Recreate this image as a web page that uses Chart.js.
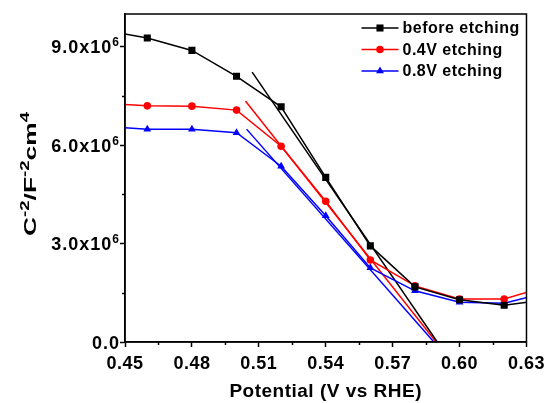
<!DOCTYPE html>
<html>
<head>
<meta charset="utf-8">
<script src="https://cdn.jsdelivr.net/npm/chart.js@4.4.1/dist/chart.umd.min.js"></script>
<style>
html, body { margin: 0; padding: 0; background: #fff; }
#wrap { width: 550px; height: 403px; }
</style>
</head>
<body>
<div id="wrap"><canvas id="mott"></canvas></div>
<script>
// Mott-Schottky data, potential in V vs RHE
var potential = [0.44, 0.46, 0.48, 0.50, 0.52, 0.54, 0.56, 0.58, 0.60, 0.62, 0.64];
var beforeEtching = [9.51e6, 9.27e6, 8.89e6, 8.10e6, 7.17e6, 5.02e6, 2.93e6, 1.68e6, 1.29e6, 1.12e6, 1.30e6];
var etching04 = [7.28e6, 7.20e6, 7.19e6, 7.07e6, 5.97e6, 4.29e6, 2.50e6, 1.71e6, 1.31e6, 1.31e6, 1.71e6];
var etching08 = [6.57e6, 6.49e6, 6.49e6, 6.38e6, 5.36e6, 3.85e6, 2.26e6, 1.56e6, 1.21e6, 1.18e6, 1.52e6];

// linear fits of the depletion region (start and x-intercept)
var fitBeforeX = [0.507, 0.590];
var fitBeforeY = [8.23e6, 0];
var fit04X = [0.504, 0.5895];
var fit04Y = [7.35e6, 0];
var fit08X = [0.5045, 0.5885];
var fit08Y = [6.49e6, 0];

var seriesNames = ['before etching', '0.4V etching', '0.8V etching'];
var xTicks = [0.45, 0.48, 0.51, 0.54, 0.57, 0.60, 0.63];
var yTicks = [0, 3e6, 6e6, 9e6];
// [main text, superscript]
var yTickLabels = [['0.0', ''], ['3.0x10', '6'], ['6.0x10', '6'], ['9.0x10', '6']];
var yTitle = [['C', '-2'], ['/F', '-2'], ['cm', '4']];

var FONT = "'Liberation Sans', Arial, sans-serif";

function toPoints(xs, ys) {
    var pts = [];
    for (var i = 0; i < xs.length; i++) {
        pts.push({ x: xs[i], y: ys[i] });
    }
    return pts;
}

function series(label, xs, ys, color, style, radius) {
    return {
        label: label,
        data: toPoints(xs, ys),
        showLine: true,
        borderColor: color,
        backgroundColor: color,
        borderWidth: 1.5,
        pointStyle: style,
        pointRadius: radius,
        pointBorderWidth: 0,
        clip: 0
    };
}

function fitLine(xs, ys, color) {
    return {
        label: '',
        data: toPoints(xs, ys),
        showLine: true,
        borderColor: color,
        borderWidth: 1.5,
        pointRadius: 0,
        clip: 0
    };
}

// text with superscripts: pairs of [normal, raised]
function pairsWidth(ctx, pairs, size, supSize) {
    var w = 0;
    pairs.forEach(function (p) {
        ctx.font = 'bold ' + size + 'px ' + FONT;
        w += ctx.measureText(p[0]).width;
        ctx.font = 'bold ' + supSize + 'px ' + FONT;
        w += ctx.measureText(p[1]).width;
    });
    return w;
}

function drawPairs(ctx, pairs, x, y, size, supSize, rise) {
    pairs.forEach(function (p) {
        ctx.font = 'bold ' + size + 'px ' + FONT;
        ctx.fillText(p[0], x, y);
        x += ctx.measureText(p[0]).width;
        ctx.font = 'bold ' + supSize + 'px ' + FONT;
        ctx.fillText(p[1], x, y - rise);
        x += ctx.measureText(p[1]).width;
    });
}

var decorations = {
    id: 'decorations',
    beforeDraw: function (chart) {
        chart.ctx.letterSpacing = '0.5px';
    },
    afterDraw: function (chart) {
        var ctx = chart.ctx;
        var a = chart.chartArea;
        var xs = chart.scales.x, ys = chart.scales.y;
        ctx.save();
        ctx.strokeStyle = '#000';
        ctx.fillStyle = '#000';
        ctx.lineWidth = 1.5;
        ctx.strokeRect(a.left, a.top, a.right - a.left, a.bottom - a.top);

        // minor ticks halfway between major ones
        ctx.beginPath();
        for (var i = 0; i < xTicks.length - 1; i++) {
            var px = Math.round(xs.getPixelForValue((xTicks[i] + xTicks[i + 1]) / 2)) + 0.5;
            ctx.moveTo(px, a.bottom);
            ctx.lineTo(px, a.bottom + 3);
        }
        for (var j = 0; j < yTicks.length; j++) {
            var v = yTicks[j] + 1.5e6;
            if (v > ys.max) break;
            var py = Math.round(ys.getPixelForValue(v)) + 0.5;
            ctx.moveTo(a.left, py);
            ctx.lineTo(a.left - 3, py);
        }
        ctx.stroke();

        // y tick labels with raised exponent
        ctx.textAlign = 'left';
        ctx.textBaseline = 'alphabetic';
        ctx.letterSpacing = '1px';
        for (var t = 0; t < yTicks.length; t++) {
            var lab = [yTickLabels[t]];
            var w = pairsWidth(ctx, lab, 18, 12);
            var ty = ys.getPixelForValue(yTicks[t]);
            drawPairs(ctx, lab, a.left - 5 - w, ty + 6.5, 18, 12, 7);
        }

        // y axis title, rotated
        ctx.save();
        ctx.letterSpacing = '0px';
        var tw = pairsWidth(ctx, yTitle, 17, 12);
        ctx.translate(36, (a.top + a.bottom) / 2 - 4);
        ctx.rotate(-Math.PI / 2);
        ctx.scale(124 / tw, 1);
        drawPairs(ctx, yTitle, -tw / 2, 0, 17, 12, 7);
        ctx.restore();

        // legend: line with marker, then label
        var lx = a.right - 165, top = a.top + 14;
        ctx.letterSpacing = '0.5px';
        ctx.font = 'bold 16px ' + FONT;
        ctx.textBaseline = 'middle';
        for (var k = 0; k < seriesNames.length; k++) {
            var ds = chart.data.datasets[k];
            var y = top + k * 21.5;
            ctx.strokeStyle = ds.borderColor;
            ctx.lineWidth = 1.5;
            ctx.beginPath();
            ctx.moveTo(lx, y);
            ctx.lineTo(lx + 37, y);
            ctx.stroke();
            ctx.fillStyle = ds.backgroundColor;
            Chart.helpers.drawPoint(ctx, { pointStyle: ds.pointStyle, radius: ds.pointRadius, borderWidth: 0, rotation: 0 }, lx + 18.5, y);
            ctx.fillStyle = '#000';
            ctx.fillText(seriesNames[k], lx + 41, y + 1);
        }
        ctx.restore();
    }
};

new Chart(document.getElementById('mott'), {
    type: 'scatter',
    data: {
        datasets: [
            series(seriesNames[0], potential, beforeEtching, '#000000', 'rect', 5),
            series(seriesNames[1], potential, etching04, '#ff0000', 'circle', 3.8),
            series(seriesNames[2], potential, etching08, '#0000ff', 'triangle', 4.5),
            fitLine(fitBeforeX, fitBeforeY, '#000000'),
            fitLine(fit04X, fit04Y, '#ff0000'),
            fitLine(fit08X, fit08Y, '#0000ff')
        ]
    },
    options: {
        responsive: true,
        maintainAspectRatio: false,
        animation: false,
        layout: { padding: { left: 0, right: 20, top: 14, bottom: 0 } },
        plugins: {
            legend: { display: false },
            tooltip: { enabled: false }
        },
        scales: {
            x: {
                type: 'linear',
                min: 0.45,
                max: 0.63,
                afterBuildTicks: function (scale) {
                    scale.ticks = xTicks.map(function (v) { return { value: v }; });
                },
                afterFit: function (scale) { scale.height = 61; },
                grid: { drawOnChartArea: false, tickLength: 5, tickColor: '#000', tickWidth: 1.5 },
                border: { color: '#000', width: 1.5 },
                ticks: {
                    color: '#000',
                    font: { family: FONT, size: 18, weight: 'bold' },
                    padding: 6,
                    maxRotation: 0,
                    callback: function (v) { return v.toFixed(2); }
                },
                title: {
                    display: true,
                    text: 'Potential (V vs RHE)',
                    color: '#000',
                    font: { family: FONT, size: 19, weight: 'bold' },
                    padding: { top: 4, bottom: 0 }
                }
            },
            y: {
                type: 'linear',
                min: 0,
                max: 1e7,
                afterBuildTicks: function (scale) {
                    scale.ticks = yTicks.map(function (v) { return { value: v }; });
                },
                afterFit: function (scale) { scale.width = 125; },
                grid: { drawOnChartArea: false, tickLength: 5, tickColor: '#000', tickWidth: 1.5 },
                border: { color: '#000', width: 1.5 },
                // labels are drawn by the decorations plugin
                ticks: { callback: function () { return ''; } }
            }
        }
    },
    plugins: [decorations]
});
</script>
</body>
</html>
